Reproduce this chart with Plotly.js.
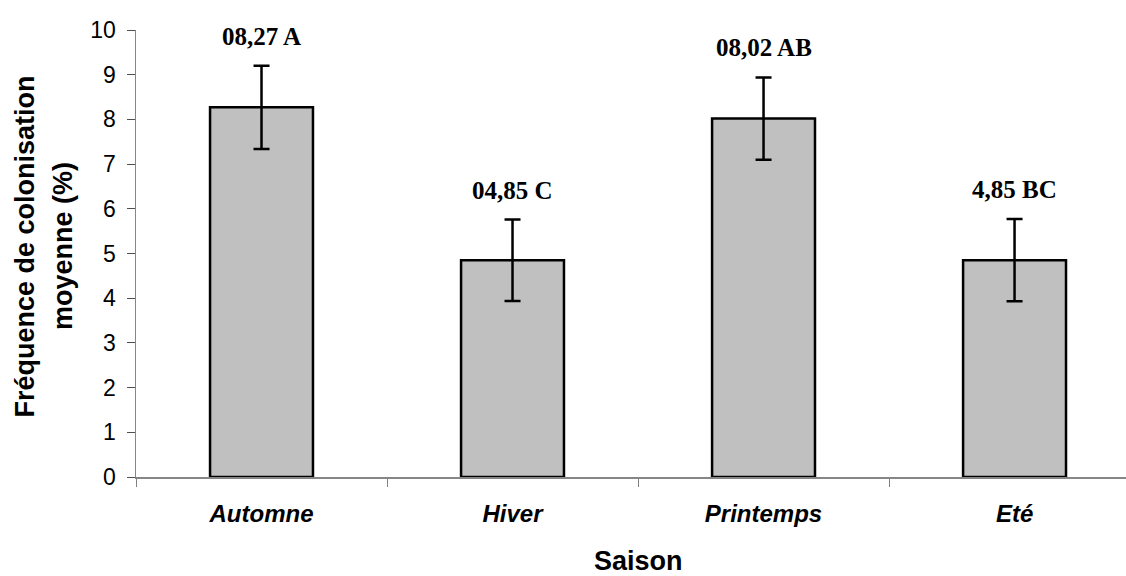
<!DOCTYPE html>
<html>
<head>
<meta charset="utf-8">
<script src="https://cdn.plot.ly/plotly-3.0.1.min.js"></script>
<style>
  html, body { margin: 0; padding: 0; background: #ffffff; }
  #chart { width: 1126px; height: 576px; }
</style>
</head>
<body>
<div id="chart"></div>
<script>
// Mean colonisation frequency by season, with standard error and group letters
const seasons = ['Automne', 'Hiver', 'Printemps', 'Eté'];
const meanFreq = [8.27, 4.85, 8.02, 4.85];
const errFreq = [0.93, 0.91, 0.92, 0.92];
const valueLabels = ['08,27 A', '04,85 C', '08,02 AB', '4,85 BC'];

const barTrace = {
  type: 'bar',
  x: seasons,
  y: meanFreq,
  width: 0.41,
  marker: { color: '#c0c0c0', line: { color: '#000000', width: 2.5 } },
  error_y: { type: 'data', array: errFreq, visible: true, color: '#000000', thickness: 2.5, width: 8 },
  hoverinfo: 'x+y'
};

// Value + letter labels placed just above each error bar
const labelNotes = seasons.map((s, i) => ({
  x: s,
  y: meanFreq[i] + errFreq[i],
  xref: 'x', yref: 'y',
  text: valueLabels[i],
  showarrow: false,
  yanchor: 'bottom',
  yshift: 14,
  font: { family: 'Liberation Serif, Times New Roman, serif', size: 25, color: '#000000', weight: 'bold' }
}));

const titleFont = { family: 'Liberation Sans, Arial, sans-serif', size: 27, color: '#000000', weight: 'bold' };

const axisTitles = [
  { x: -0.112, y: 0.516, xref: 'paper', yref: 'paper', text: 'Fréquence de colonisation',
    textangle: -90, showarrow: false, xanchor: 'center', yanchor: 'middle', font: titleFont },
  { x: -0.073, y: 0.516, xref: 'paper', yref: 'paper', text: 'moyenne (%)',
    textangle: -90, showarrow: false, xanchor: 'center', yanchor: 'middle', font: titleFont },
  { x: 1.5, y: 0, xref: 'x', yref: 'paper', text: 'Saison', showarrow: false,
    xanchor: 'center', yanchor: 'middle', yshift: -84, font: titleFont }
];

const layout = {
  width: 1126,
  height: 576,
  margin: { l: 136, r: 0, t: 30, b: 99, pad: 0 },
  paper_bgcolor: '#ffffff',
  plot_bgcolor: '#ffffff',
  showlegend: false,
  bargap: 0.59,
  xaxis: {
    type: 'category',
    range: [-0.5, 3.444],
    tickson: 'boundaries',
    ticks: 'outside',
    ticklen: 8,
    tickwidth: 1,
    tickcolor: '#808080',
    showline: true,
    linecolor: '#868686',
    linewidth: 2,
    showgrid: false,
    zeroline: false,
    ticklabelstandoff: 14,
    tickfont: { family: 'Liberation Sans, Arial, sans-serif', size: 24, color: '#000000', style: 'italic', weight: 'bold' }
  },
  yaxis: {
    range: [0, 10],
    tickmode: 'linear',
    tick0: 0,
    dtick: 1,
    ticks: 'outside',
    ticklen: 8,
    tickwidth: 1,
    tickcolor: '#505050',
    showline: true,
    linecolor: '#868686',
    linewidth: 1.5,
    showgrid: false,
    zeroline: false,
    ticklabelstandoff: 6,
    tickfont: { family: 'Liberation Sans, Arial, sans-serif', size: 23, color: '#000000' }
  },
  annotations: labelNotes.concat(axisTitles)
};

Plotly.newPlot('chart', [barTrace], layout, { displayModeBar: false, staticPlot: true });
</script>
</body>
</html>
